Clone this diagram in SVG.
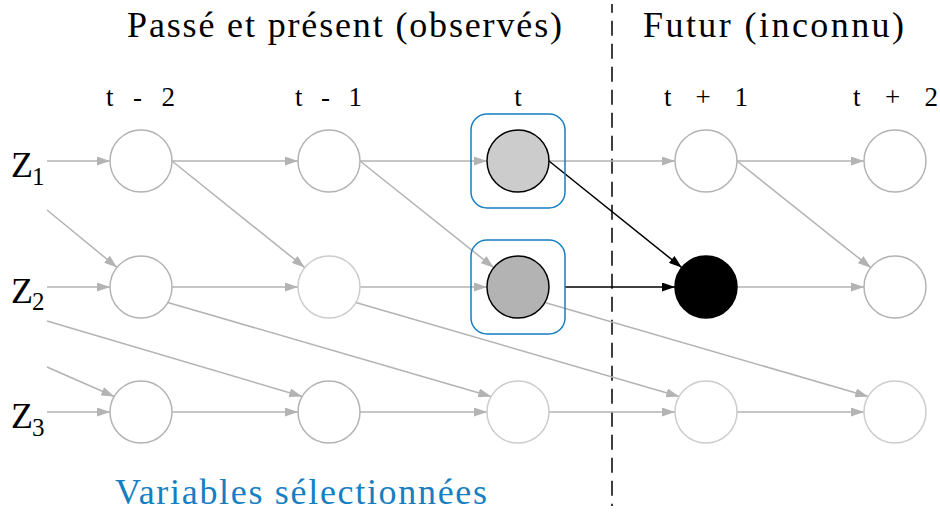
<svg xmlns="http://www.w3.org/2000/svg" width="940" height="513" viewBox="0 0 940 513">
  <style>
    .g { stroke: #b3b3b3; stroke-width: 1.5; fill: none; marker-end: url(#ag); }
    .k { stroke: #000; stroke-width: 1.5; fill: none; marker-end: url(#ak); }
    .n1 { fill: #fff; stroke: #b3b3b3; stroke-width: 1.5; }
    .n2 { fill: #fff; stroke: #cccccc; stroke-width: 1.5; }
    .sel { fill: none; stroke: #177fc1; stroke-width: 1.5; }
  </style>
  <defs>
    <marker id="ag" viewBox="0 0 13 9" refX="13" refY="4.5" markerWidth="13" markerHeight="9" orient="auto" markerUnits="userSpaceOnUse">
      <path d="M0,0 L13,4.5 L0,9 Z" fill="#b3b3b3"/>
    </marker>
    <marker id="ak" viewBox="0 0 13 9" refX="13" refY="4.5" markerWidth="13" markerHeight="9" orient="auto" markerUnits="userSpaceOnUse">
      <path d="M0,0 L13,4.5 L0,9 Z" fill="#000"/>
    </marker>
  </defs>
  <rect width="940" height="513" fill="#fff"/>

  <g id="headers">
    <text x="127" y="37" font-family="Liberation Serif" font-size="36" textLength="435" lengthAdjust="spacing">Passé et présent (observés)</text>
    <text x="643" y="37" font-family="Liberation Serif" font-size="36" textLength="261" lengthAdjust="spacing">Futur (inconnu)</text>
    <text x="106" y="106" font-family="Liberation Serif" font-size="27" textLength="69" lengthAdjust="spacing">t - 2</text>
    <text x="295" y="106" font-family="Liberation Serif" font-size="27" textLength="67" lengthAdjust="spacing">t - 1</text>
    <text x="518" y="106" font-family="Liberation Serif" font-size="27" text-anchor="middle">t</text>
    <text x="664" y="106" font-family="Liberation Serif" font-size="27" textLength="84" lengthAdjust="spacing">t + 1</text>
    <text x="853" y="106" font-family="Liberation Serif" font-size="27" textLength="85" lengthAdjust="spacing">t + 2</text>
  </g>

  <g id="labelZ1"><text x="11" y="177" font-family="Liberation Serif" font-size="36">Z</text><text x="32" y="184.5" font-family="Liberation Serif" font-size="25">1</text></g>
  <g id="labelZ2"><text x="11" y="302.5" font-family="Liberation Serif" font-size="36">Z</text><text x="32" y="310" font-family="Liberation Serif" font-size="25">2</text></g>
  <g id="labelZ3"><text x="11" y="428" font-family="Liberation Serif" font-size="36">Z</text><text x="32" y="435.5" font-family="Liberation Serif" font-size="25">3</text></g>

  <line id="separator" x1="612" y1="4" x2="612" y2="506" stroke="#000" stroke-width="1.5" stroke-dasharray="15 8" stroke-dashoffset="6.3"/>

  <g id="connectors">
    <line class="g" x1="47" y1="161" x2="110" y2="161"/>
    <line class="g" x1="172" y1="161" x2="298" y2="161"/>
    <line class="g" x1="360" y1="161" x2="487" y2="161"/>
    <line class="g" x1="549" y1="161" x2="675" y2="161"/>
    <line class="g" x1="737" y1="161" x2="864" y2="161"/>
    <line class="g" x1="47" y1="287" x2="110" y2="287"/>
    <line class="g" x1="172" y1="287" x2="298" y2="287"/>
    <line class="g" x1="360" y1="287" x2="487" y2="287"/>
    <line class="k" x1="565" y1="287" x2="675" y2="287"/>
    <line class="g" x1="737" y1="287" x2="864" y2="287"/>
    <line class="g" x1="47" y1="412" x2="110" y2="412"/>
    <line class="g" x1="172" y1="412" x2="298" y2="412"/>
    <line class="g" x1="360" y1="412" x2="487" y2="412"/>
    <line class="g" x1="549" y1="412" x2="675" y2="412"/>
    <line class="g" x1="737" y1="412" x2="864" y2="412"/>
    <line class="g" x1="47" y1="210" x2="117" y2="267.4"/>
    <line class="g" x1="172" y1="161" x2="304.8" y2="267.6"/>
    <line class="g" x1="360" y1="161" x2="493.8" y2="267.7"/>
    <line class="k" x1="549" y1="161" x2="681.8" y2="267.6"/>
    <line class="g" x1="737" y1="161" x2="870.8" y2="267.7"/>
    <line class="g" x1="47" y1="367" x2="114.2" y2="396.5"/>
    <line class="g" x1="47" y1="321" x2="302.2" y2="396.5"/>
    <line class="g" x1="167.8" y1="302.5" x2="491.2" y2="396.5"/>
    <line class="g" x1="355.8" y1="302.5" x2="679.2" y2="396.5"/>
    <line class="g" x1="544.8" y1="302.5" x2="868.2" y2="396.5"/>
  </g>

  <g id="z1_tm2"><circle class="n1" cx="141" cy="161" r="31"/></g>
  <g id="z1_tm1"><circle class="n1" cx="329" cy="161" r="31"/></g>
  <g id="z1_t"><rect class="sel" x="471" y="114" width="94" height="94" rx="16"/><circle cx="518" cy="161" r="31" fill="#cccccc" stroke="#000" stroke-width="1.5"/></g>
  <g id="z1_tp1"><circle class="n1" cx="706" cy="161" r="31"/></g>
  <g id="z1_tp2"><circle class="n1" cx="895" cy="161" r="31"/></g>

  <g id="z2_tm2"><circle class="n1" cx="141" cy="287" r="31"/></g>
  <g id="z2_tm1"><circle class="n2" cx="329" cy="287" r="31"/></g>
  <g id="z2_t"><rect class="sel" x="471" y="240" width="94" height="94" rx="16"/><circle cx="518" cy="287" r="31" fill="#b3b3b3" stroke="#000" stroke-width="1.5"/></g>
  <g id="z2_tp1"><circle cx="706" cy="287" r="31" fill="#000" stroke="#000" stroke-width="1.5"/></g>
  <g id="z2_tp2"><circle class="n1" cx="895" cy="287" r="31"/></g>

  <g id="z3_tm2"><circle class="n1" cx="141" cy="412" r="31"/></g>
  <g id="z3_tm1"><circle class="n1" cx="329" cy="412" r="31"/></g>
  <g id="z3_t"><circle class="n2" cx="518" cy="412" r="31"/></g>
  <g id="z3_tp1"><circle class="n2" cx="706" cy="412" r="31"/></g>
  <g id="z3_tp2"><circle class="n2" cx="895" cy="412" r="31"/></g>

  <g id="legend">
    <text x="115" y="504" font-family="Liberation Serif" font-size="36" textLength="372" lengthAdjust="spacing" fill="#177fc1">Variables sélectionnées</text>
  </g>
</svg>
